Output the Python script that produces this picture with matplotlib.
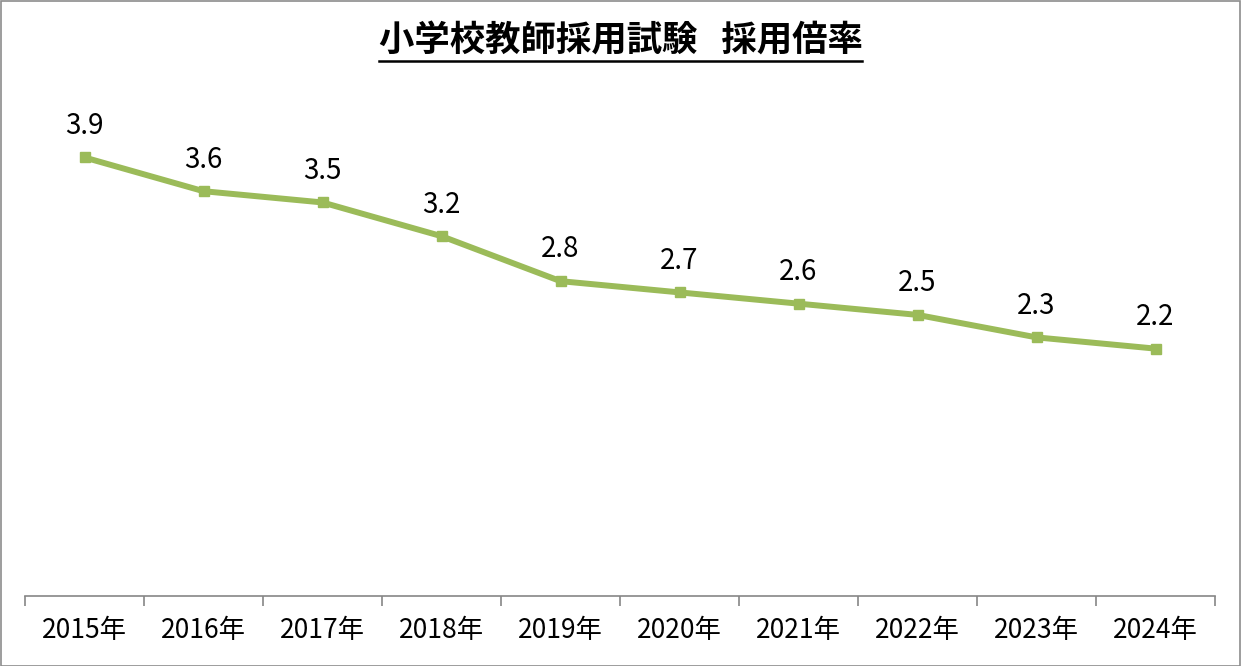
import numpy as np
import matplotlib
matplotlib.use('Agg')
import matplotlib.pyplot as plt
from matplotlib.lines import Line2D
from matplotlib.patches import Rectangle

plt.rcParams['font.family'] = ['Noto Sans CJK JP', 'DejaVu Sans']

years = ['2015年', '2016年', '2017年', '2018年', '2019年',
         '2020年', '2021年', '2022年', '2023年', '2024年']
ratio = [3.9, 3.6, 3.5, 3.2, 2.8, 2.7, 2.6, 2.5, 2.3, 2.2]
title = '小学校教師採用試験   採用倍率'

W, H = 1241, 666
fig = plt.figure(figsize=(W / 100, H / 100), dpi=100)
ax = fig.add_axes([25 / W, (H - 596) / H, 1190 / W, 506 / H])

x = np.arange(len(years))
ax.plot(x, ratio, color='#9BBB59', lw=4.3, marker='s', ms=6.5,
        solid_joinstyle='miter', solid_capstyle='butt')

for xi, v in zip(x, ratio):
    ax.annotate(f'{v:.1f}', (xi, v), xytext=(0, 12), textcoords='offset points',
                ha='center', va='bottom', fontsize=20, color='black')

ax.set_xlim(-0.5, len(years) - 0.5)
ax.set_ylim(0, 4.5)
ax.set_yticks([])
ax.set_xticks(x)
ax.set_xticklabels(years, fontsize=19)
ax.set_xticks(np.arange(-0.5, len(years)), minor=True)
ax.tick_params(axis='x', which='major', length=0, pad=15)
ax.tick_params(axis='x', which='minor', length=7, width=1.2, color='#868686')
for s in ['top', 'right', 'left']:
    ax.spines[s].set_visible(False)
ax.spines['bottom'].set_color('#868686')
ax.spines['bottom'].set_linewidth(1.2)

t = fig.text(0.5, (H - 40) / H, title, ha='center', va='center',
             fontsize=25.5, fontweight='bold')

# underline under the title
fig.canvas.draw()
bb = t.get_window_extent().transformed(fig.transFigure.inverted())
uy = (H - 61) / H
fig.add_artist(Line2D([bb.x0, bb.x1], [uy, uy], color='black', lw=1.8,
                      transform=fig.transFigure))

# chart border
fig.add_artist(Rectangle((0.5 / W, 0.5 / H), 1 - 1.5 / W, 1 - 1.5 / H,
                         transform=fig.transFigure, fill=False,
                         edgecolor='#8c8c8c', lw=1.2))

fig.savefig('out.png', dpi=100)
